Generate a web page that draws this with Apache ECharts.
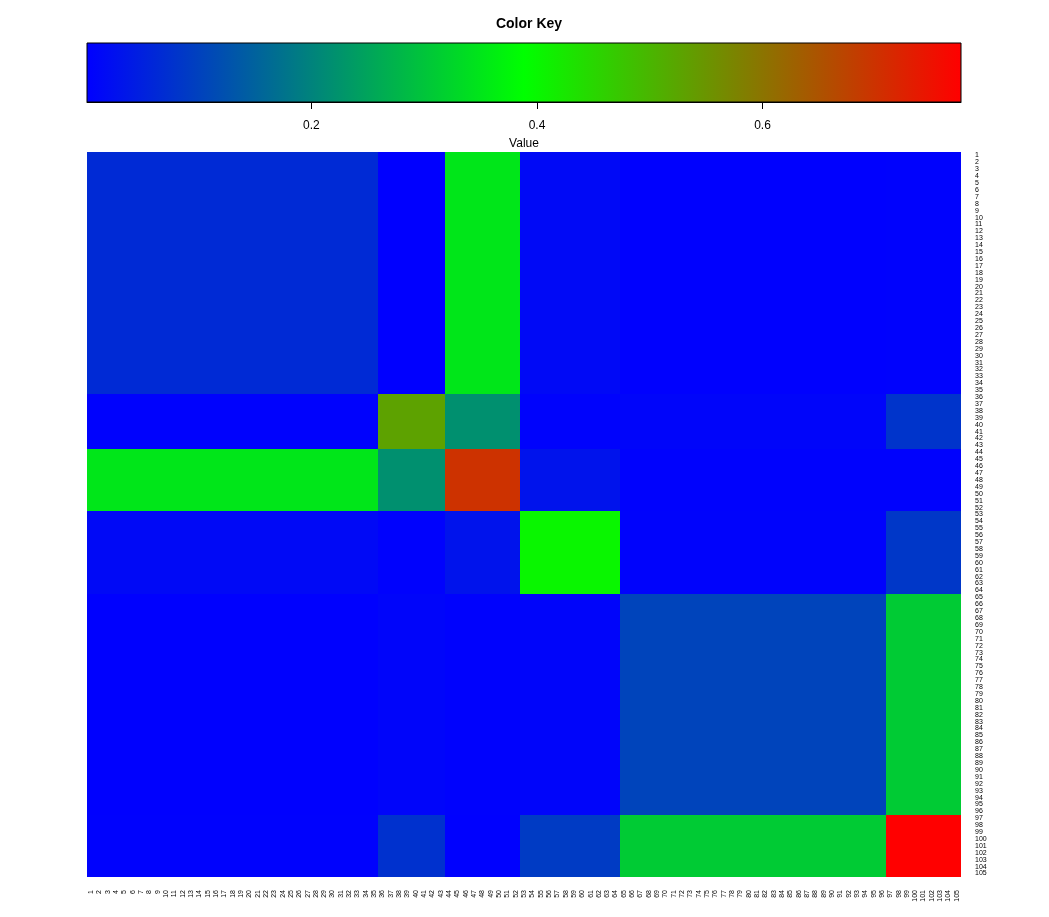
<!DOCTYPE html>
<html>
<head>
<meta charset="utf-8">
<script src="https://cdn.jsdelivr.net/npm/echarts@6/dist/echarts.min.js"></script>
<style>html,body{margin:0;padding:0;background:#fff}#c{width:1049px;height:917px}</style>
</head>
<body>
<div id="c"></div>
<script>
// Row/column labels (1..105)
const labels = Array.from({length: 105}, (_, i) => String(i + 1));
// Last index (1-based) of each block of rows / columns
const blockEnds = [35, 43, 52, 64, 96, 105];
// Block values: one array per row-block, one entry per column-block
const blockRow1 = [0.065, 0.001, 0.350, 0.015, 0.003, 0.004];
const blockRow2 = [0.004, 0.530, 0.220, 0.005, 0.008, 0.080];
const blockRow3 = [0.350, 0.220, 0.700, 0.030, 0.004, 0.004];
const blockRow4 = [0.015, 0.004, 0.030, 0.402, 0.006, 0.085];
const blockRow5 = [0.003, 0.008, 0.004, 0.008, 0.104, 0.310];
const blockRow6 = [0.004, 0.075, 0.003, 0.090, 0.310, 0.776];
const blockRows = [blockRow1, blockRow2, blockRow3, blockRow4, blockRow5, blockRow6];
// Color key ticks
const keyTicks = [0.2, 0.4, 0.6];
const keyColors = ['#0000ff', '#00ff00', '#ff0000'];

function blockOf(i) { // i is 1-based
  for (let b = 0; b < blockEnds.length; b++) if (i <= blockEnds[b]) return b;
  return blockEnds.length - 1;
}
const data = [];
let vmin = Infinity, vmax = -Infinity;
for (let r = 1; r <= 105; r++) {
  for (let c = 1; c <= 105; c++) {
    const v = blockRows[blockOf(r)][blockOf(c)];
    vmin = Math.min(vmin, v); vmax = Math.max(vmax, v);
    data.push([c - 1, r - 1, v]);
  }
}

const FONT = '"Liberation Sans", Arial, sans-serif';
const chart = echarts.init(document.getElementById('c'), null, {renderer: 'canvas'});
chart.setOption({
  animation: false,
  backgroundColor: '#fff',
  title: {
    text: 'Color Key', left: 524, top: 12, textAlign: 'center',
    textStyle: {fontFamily: FONT, fontSize: 14, fontWeight: 'bold', color: '#000'}
  },
  grid: [
    {left: 87, top: 43, width: 874, height: 59, show: true, borderColor: '#000', borderWidth: 1, backgroundColor: 'transparent', z: 5},
    {left: 87, top: 152, width: 874, height: 725}
  ],
  xAxis: [
    {
      type: 'value', gridIndex: 0, min: vmin, max: vmax, position: 'bottom',
      axisLine: {show: true, lineStyle: {color: '#000', width: 1}},
      axisTick: {show: true, length: 7, customValues: keyTicks, lineStyle: {color: '#000'}},
      axisLabel: {customValues: keyTicks, fontFamily: FONT, fontSize: 12, color: '#000', margin: 18},
      splitLine: {show: false},
      name: 'Value', nameLocation: 'middle', nameGap: 36,
      nameTextStyle: {fontFamily: FONT, fontSize: 12, color: '#000'}
    },
    {
      type: 'category', gridIndex: 1, data: labels, position: 'bottom',
      axisLine: {show: false}, axisTick: {show: false}, splitLine: {show: false},
      axisLabel: {interval: 0, rotate: 90, fontFamily: FONT, fontSize: 7, color: '#000', margin: 13}
    }
  ],
  yAxis: [
    {type: 'value', gridIndex: 0, min: 0, max: 1, show: false},
    {
      type: 'category', gridIndex: 1, data: labels, inverse: true, position: 'right',
      axisLine: {show: false}, axisTick: {show: false}, splitLine: {show: false},
      axisLabel: {interval: 0, fontFamily: FONT, fontSize: 7, color: '#000', margin: 14, align: 'left'}
    }
  ],
  visualMap: {
    show: false, type: 'continuous', min: vmin, max: vmax, seriesIndex: 1, dimension: 2,
    inRange: {color: keyColors}
  },
  series: [
    {
      type: 'custom', xAxisIndex: 0, yAxisIndex: 0, silent: true,
      data: [[vmin, vmax]],
      renderItem: function (params, api) {
        const p0 = api.coord([api.value(0), 1]);
        const p1 = api.coord([api.value(1), 0]);
        return {
          type: 'rect',
          shape: {x: p0[0], y: p0[1], width: p1[0] - p0[0], height: p1[1] - p0[1]},
          style: {
            fill: new echarts.graphic.LinearGradient(0, 0, 1, 0, [
              {offset: 0, color: keyColors[0]},
              {offset: 0.5, color: keyColors[1]},
              {offset: 1, color: keyColors[2]}
            ])
          }
        };
      }
    },
    {
      type: 'custom', xAxisIndex: 1, yAxisIndex: 1, data: data, silent: true,
      encode: {x: 0, y: 1},
      renderItem: function (params, api) {
        const c = api.coord([api.value(0), api.value(1)]);
        const s = api.size([1, 1]);
        const x0 = Math.round(c[0] - s[0] / 2), x1 = Math.round(c[0] + s[0] / 2);
        const y0 = Math.round(c[1] - s[1] / 2), y1 = Math.round(c[1] + s[1] / 2);
        const col = api.visual('color');
        return {
          type: 'rect',
          shape: {x: x0, y: y0, width: x1 - x0, height: y1 - y0},
          style: {fill: col}
        };
      }
    }
  ]
});
</script>
</body>
</html>
